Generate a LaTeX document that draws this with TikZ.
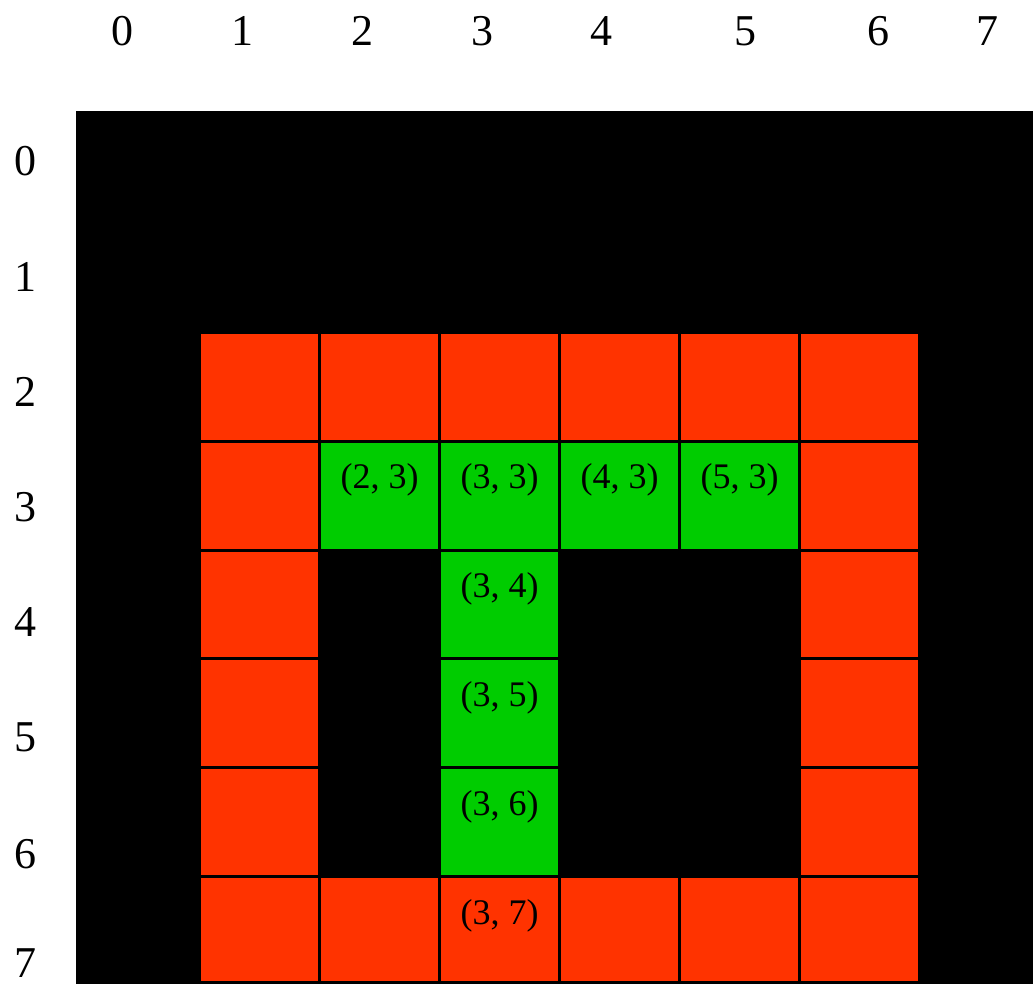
\documentclass[tikz,border=0pt]{standalone}
\usepackage{fontspec}
\setmainfont{Liberation Serif}
\definecolor{wallred}{HTML}{FF3300}
\definecolor{routegreen}{HTML}{00CC00}

\begin{document}
\begin{tikzpicture}[
  x=1pt, y=-1pt,
  cell/.style={draw=black, line width=3pt},
  wall/.style={cell, fill=wallred},
  route/.style={cell, fill=routegreen},
  axislabel/.style={font=\fontsize{44}{44}\selectfont, anchor=base, inner sep=0pt},
  celllabel/.style={font=\fontsize{36}{36}\selectfont, anchor=base, inner sep=0pt}
]

% Canvas and black floor
\useasboundingbox (0,0) rectangle (1033,984);
\fill[black] (76,111) rectangle (1033,984);

% Walls: top and bottom rows
\foreach \c in {1,...,6} {
  \draw[wall] ({199.5+120*(\c-1)},332.5) rectangle ++(120,108.8);
  \draw[wall] ({199.5+120*(\c-1)},876.5) rectangle ++(120,105.7);
}

% Walls: left and right columns
\foreach \r in {3,...,6} {
  \draw[wall] (199.5,{332.5+108.8*(\r-2)}) rectangle ++(120,108.8);
  \draw[wall] (799.5,{332.5+108.8*(\r-2)}) rectangle ++(120,108.8);
}

% Route cells
\foreach \c/\r in {2/3, 3/3, 4/3, 5/3, 3/4, 3/5, 3/6} {
  \draw[route] ({199.5+120*(\c-1)},{332.5+108.8*(\r-2)}) rectangle ++(120,108.8);
}

% Cell labels
\foreach \c/\r in {2/3, 3/3, 4/3, 5/3, 3/4, 3/5, 3/6, 3/7} {
  \node[celllabel] (p\c\r) at ({259.5+120*(\c-1)},{380+108.8*(\r-2)}) {(\c, \r)};
}

% Column numbers
\foreach \i/\x in {0/122, 1/242, 2/362, 3/482, 4/601, 5/745, 6/878, 7/987} {
  \node[axislabel] (col\i) at (\x,46) {\i};
}

% Row numbers
\foreach \i/\y in {0/176, 1/291, 2/406, 3/521, 4/636, 5/751, 6/868, 7/977} {
  \node[axislabel] (row\i) at (25,\y) {\i};
}

\end{tikzpicture}
\end{document}
